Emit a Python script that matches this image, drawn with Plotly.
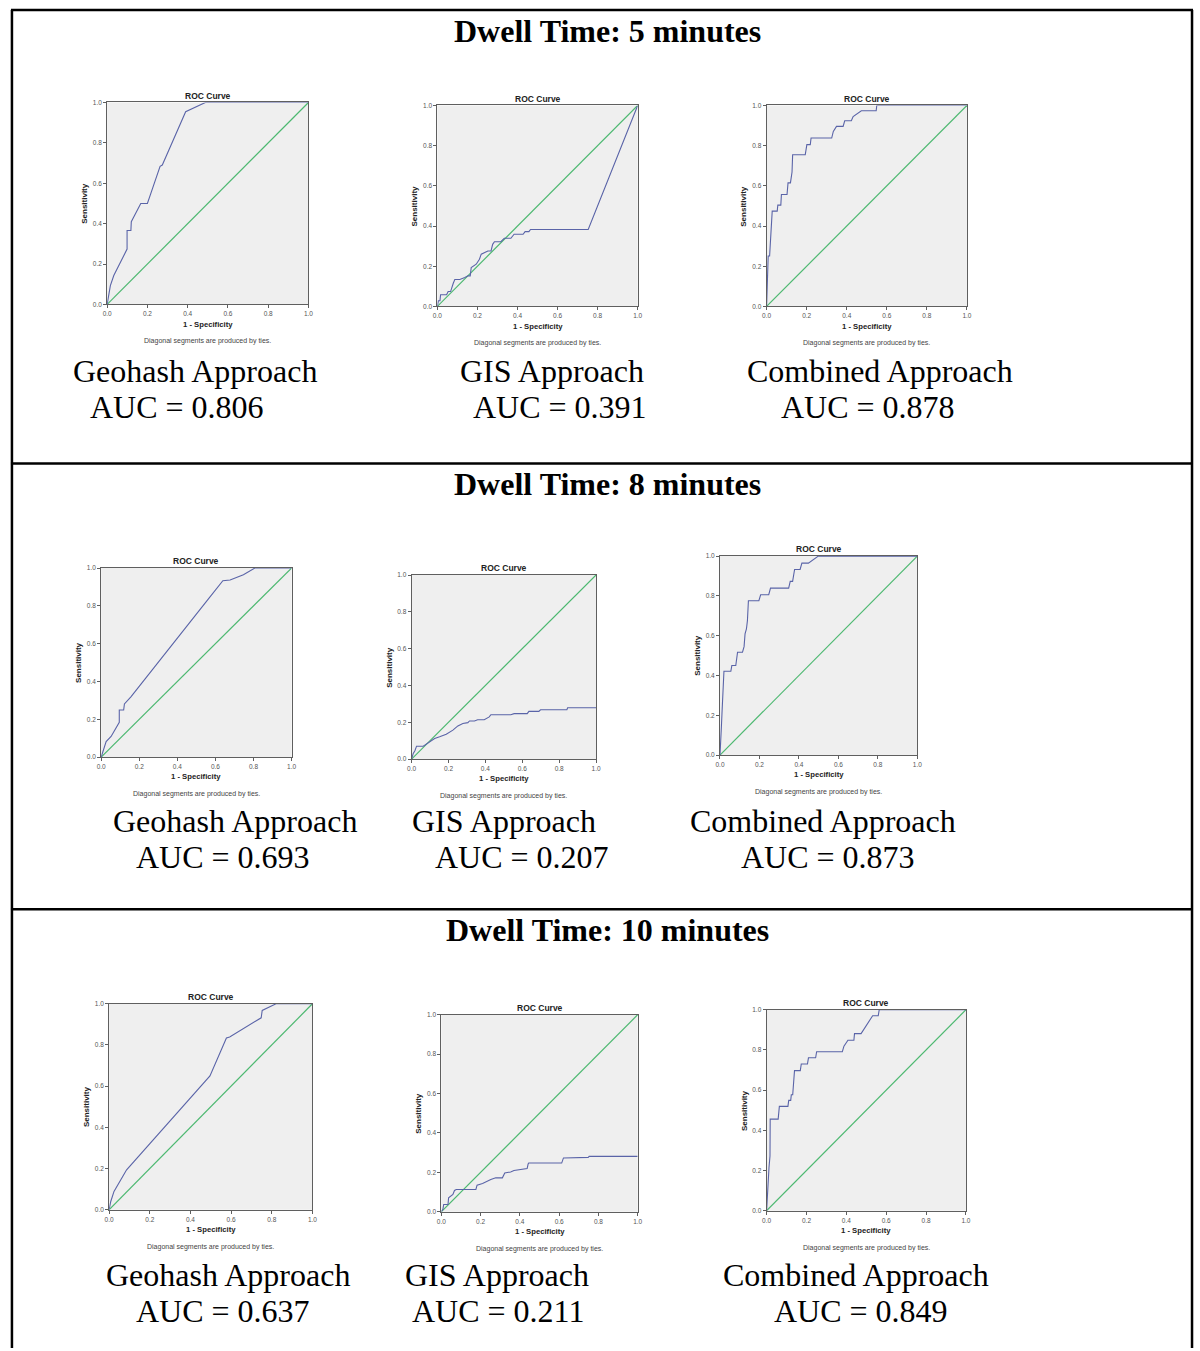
import plotly.graph_objects as go

W, H = 1200, 1351

# ---------------- data ----------------
dwell_titles = ["Dwell Time: 5 minutes", "Dwell Time: 8 minutes", "Dwell Time: 10 minutes"]
approaches = ["Geohash Approach", "GIS Approach", "Combined Approach"]
auc_values = [[0.806, 0.391, 0.878],
              [0.693, 0.207, 0.873],
              [0.637, 0.211, 0.849]]
tick_vals = [0.0, 0.2, 0.4, 0.6, 0.8, 1.0]
tick_text = ["0.0", "0.2", "0.4", "0.6", "0.8", "1.0"]
chart_title = "ROC Curve"
x_title = "1 - Specificity"
y_title = "Sensitivity"
footnote = "Diagonal segments are produced by ties."

# Dwell 5 min
geo5_fpr = [0, 0.016, 0.033, 0.099, 0.099, 0.118, 0.12, 0.167, 0.2, 0.263, 0.274, 0.39, 0.488, 1.0]
geo5_tpr = [0, 0.093, 0.143, 0.274, 0.366, 0.366, 0.41, 0.50, 0.50, 0.684, 0.69, 0.954, 1.0, 1.0]
gis5_fpr = [0, 0.005, 0.013, 0.016, 0.046, 0.054, 0.066, 0.071, 0.079, 0.087, 0.112, 0.137, 0.153, 0.164,
            0.169, 0.194, 0.21, 0.219, 0.235, 0.252, 0.268, 0.276, 0.285, 0.317, 0.334, 0.367, 0.383,
            0.428, 0.438, 0.457, 0.465, 0.753, 1.0]
gis5_tpr = [0, 0.028, 0.028, 0.058, 0.058, 0.074, 0.074, 0.094, 0.114, 0.134, 0.134, 0.144, 0.152, 0.152,
            0.193, 0.21, 0.235, 0.26, 0.268, 0.276, 0.276, 0.309, 0.322, 0.322, 0.339, 0.339, 0.359,
            0.359, 0.372, 0.372, 0.383, 0.383, 1.0]
comb5_fpr = [0, 0.003, 0.008, 0.015, 0.02, 0.025, 0.028, 0.053, 0.056, 0.071, 0.074, 0.102, 0.107, 0.119,
             0.124, 0.127, 0.13, 0.193, 0.201, 0.218, 0.222, 0.325, 0.333, 0.349, 0.382, 0.39, 0.423,
             0.432, 0.473, 0.547, 0.55, 1.0]
comb5_tpr = [0, 0.111, 0.251, 0.251, 0.334, 0.408, 0.474, 0.474, 0.504, 0.504, 0.557, 0.557, 0.615, 0.615,
             0.669, 0.669, 0.755, 0.755, 0.805, 0.805, 0.838, 0.838, 0.871, 0.896, 0.896, 0.924, 0.924,
             0.945, 0.974, 0.974, 1.0, 1.0]

# Dwell 8 min
geo8_fpr = [0, 0.014, 0.026, 0.052, 0.095, 0.095, 0.118, 0.122, 0.156, 0.556, 0.639, 0.677, 0.747, 0.807, 1.0]
geo8_tpr = [0, 0.039, 0.082, 0.109, 0.184, 0.249, 0.249, 0.281, 0.319, 0.828, 0.933, 0.937, 0.965, 1.0, 1.0]
gis8_fpr = [0, 0.009, 0.018, 0.027, 0.063, 0.09, 0.125, 0.152, 0.188, 0.224, 0.251, 0.278, 0.305, 0.314,
            0.341, 0.358, 0.394, 0.421, 0.43, 0.538, 0.556, 0.627, 0.636, 0.69, 0.699, 0.842, 0.846, 1.0]
gis8_tpr = [0, 0.031, 0.045, 0.07, 0.07, 0.088, 0.112, 0.121, 0.135, 0.157, 0.18, 0.193, 0.198, 0.207,
            0.207, 0.214, 0.214, 0.229, 0.241, 0.241, 0.247, 0.247, 0.259, 0.259, 0.268, 0.268, 0.279, 0.279]
comb8_fpr = [0, 0.003, 0.007, 0.01, 0.013, 0.018, 0.02, 0.055, 0.06, 0.08, 0.089, 0.114, 0.122, 0.127,
             0.134, 0.139, 0.144, 0.197, 0.206, 0.247, 0.256, 0.348, 0.356, 0.368, 0.378, 0.406, 0.415,
             0.448, 0.498, 1.0]
comb8_tpr = [0, 0.04, 0.14, 0.207, 0.291, 0.375, 0.421, 0.421, 0.45, 0.45, 0.517, 0.517, 0.545, 0.609,
             0.634, 0.676, 0.776, 0.776, 0.806, 0.806, 0.839, 0.839, 0.873, 0.873, 0.933, 0.933, 0.965,
             0.965, 1.0, 1.0]

# Dwell 10 min
geo10_fpr = [0, 0.008, 0.024, 0.049, 0.086, 0.496, 0.577, 0.593, 0.748, 0.753, 0.772, 0.821, 1.0]
geo10_tpr = [0, 0.04, 0.089, 0.129, 0.194, 0.65, 0.834, 0.839, 0.932, 0.968, 0.976, 1.0, 1.0]
gis10_fpr = [0, 0.008, 0.012, 0.034, 0.037, 0.047, 0.059, 0.067, 0.076, 0.176, 0.182, 0.21, 0.227, 0.252,
             0.277, 0.311, 0.323, 0.353, 0.37, 0.437, 0.442, 0.445, 0.613, 0.622, 0.748, 0.753, 1.0]
gis10_tpr = [0, 0.012, 0.037, 0.037, 0.071, 0.079, 0.088, 0.108, 0.113, 0.113, 0.135, 0.143, 0.152, 0.163,
             0.172, 0.172, 0.197, 0.202, 0.209, 0.219, 0.242, 0.247, 0.247, 0.273, 0.276, 0.281, 0.281]
comb10_fpr = [0, 0.003, 0.008, 0.012, 0.017, 0.018, 0.058, 0.064, 0.107, 0.111, 0.121, 0.124, 0.131,
              0.136, 0.14, 0.169, 0.174, 0.205, 0.21, 0.246, 0.251, 0.38, 0.388, 0.408, 0.438, 0.441,
              0.474, 0.532, 0.56, 0.565, 1.0]
comb10_tpr = [0, 0.066, 0.14, 0.214, 0.272, 0.456, 0.456, 0.519, 0.519, 0.549, 0.549, 0.577, 0.577,
              0.638, 0.697, 0.697, 0.730, 0.730, 0.761, 0.761, 0.791, 0.791, 0.819, 0.848, 0.848, 0.881,
              0.881, 0.97, 0.97, 1.0, 1.0]

curves = [
    [(geo5_fpr, geo5_tpr), (gis5_fpr, gis5_tpr), (comb5_fpr, comb5_tpr)],
    [(geo8_fpr, geo8_tpr), (gis8_fpr, gis8_tpr), (comb8_fpr, comb8_tpr)],
    [(geo10_fpr, geo10_tpr), (gis10_fpr, gis10_tpr), (comb10_fpr, comb10_tpr)],
]

# ---------------- layout (pixels) ----------------
boxes = [
    [(103, 99, 306, 302), (436, 102, 638, 304), (768, 102, 970, 304)],
    [(97, 567, 289, 757), (410, 574, 596, 759), (721, 555, 920, 755)],
    [(105, 1005, 310, 1212), (440, 1016, 638, 1214), (768, 1011, 969, 1213)],
]
name_pos = [
    [(192, 369), (552, 369), (882, 369)],
    [(232, 821), (503, 821), (825, 821)],
    [(225, 1278), (496, 1278), (858, 1278)],
]
auc_pos = [
    [(173, 405), (560, 405), (870, 405)],
    [(220, 857), (521, 857), (830, 857)],
    [(220, 1314), (497, 1314), (863, 1314)],
]
section_y = [27, 483, 931]
separators_y = [462, 910]

SERIF = "Liberation Serif, Times New Roman, serif"
SANS = "Liberation Sans, Arial, sans-serif"
BLUE = "#5a64a8"
GREEN = "#4cb870"
FRAME = "#5f5f5f"


def px(x):
    return x / W


def py(y):
    return 1 - y / H


fig = go.Figure()
layout = dict(width=W, height=H, margin=dict(l=0, r=0, t=0, b=0),
              paper_bgcolor="white", plot_bgcolor="rgba(0,0,0,0)", showlegend=False)
annotations = []
shapes = []

k = 0
for r in range(3):
    for c in range(3):
        k += 1
        xa = "x" if k == 1 else f"x{k}"
        ya = "y" if k == 1 else f"y{k}"
        l, t, rr, b = boxes[r][c]
        layout["xaxis" if k == 1 else f"xaxis{k}"] = dict(
            domain=[px(l), px(rr)], anchor=ya, range=[0, 1], showgrid=False, zeroline=False,
            showline=True, mirror=True, linecolor=FRAME, linewidth=1,
            ticks="outside", ticklen=3, tickwidth=1, tickcolor=FRAME,
            tickvals=tick_vals, ticktext=tick_text,
            tickfont=dict(family=SANS, size=6.5, color="#555555"), fixedrange=True)
        layout["yaxis" if k == 1 else f"yaxis{k}"] = dict(
            domain=[py(b), py(t)], anchor=xa, range=[0, 1], showgrid=False, zeroline=False,
            showline=True, mirror=True, linecolor=FRAME, linewidth=1,
            ticks="outside", ticklen=3, tickwidth=1, tickcolor=FRAME,
            tickvals=tick_vals, ticktext=tick_text,
            tickfont=dict(family=SANS, size=6.5, color="#555555"), fixedrange=True)
        shapes.append(dict(type="rect", xref=f"{xa} domain", yref=f"{ya} domain",
                           x0=0, x1=1, y0=0, y1=1, fillcolor="#efefef",
                           line=dict(width=0), layer="below"))
        fx, fy = curves[r][c]
        fig.add_trace(go.Scatter(x=[0, 1], y=[0, 1], mode="lines", xaxis=xa, yaxis=ya,
                                 line=dict(color=GREEN, width=1.2), hoverinfo="skip"))
        fig.add_trace(go.Scatter(x=fx, y=fy, mode="lines", xaxis=xa, yaxis=ya,
                                 line=dict(color=BLUE, width=1.1)))
        cx = (l + rr) / 2
        annotations += [
            dict(text=f"<b>{chart_title}</b>", x=px(cx), y=py(t - 7), xref="paper", yref="paper",
                 showarrow=False, xanchor="center", yanchor="middle",
                 font=dict(family=SANS, size=8.5, color="#222222")),
            dict(text=f"<b>{y_title}</b>", x=px(l - 23), y=py((t + b) / 2), xref="paper", yref="paper",
                 showarrow=False, xanchor="center", yanchor="middle", textangle=-90,
                 font=dict(family=SANS, size=8, color="#222222")),
            dict(text=f"<b>{x_title}</b>", x=px(cx), y=py(b + 20), xref="paper", yref="paper",
                 showarrow=False, xanchor="center", yanchor="middle",
                 font=dict(family=SANS, size=7.7, color="#222222")),
            dict(text=footnote, x=px(cx), y=py(b + 37), xref="paper", yref="paper",
                 showarrow=False, xanchor="center", yanchor="middle",
                 font=dict(family=SANS, size=7, color="#444444")),
            dict(text=approaches[c], x=px(name_pos[r][c][0]), y=py(name_pos[r][c][1]),
                 xref="paper", yref="paper", showarrow=False, xanchor="center", yanchor="middle",
                 font=dict(family=SERIF, size=32, color="black")),
            dict(text=f"AUC = {auc_values[r][c]:.3f}", x=px(auc_pos[r][c][0]), y=py(auc_pos[r][c][1]),
                 xref="paper", yref="paper", showarrow=False, xanchor="center", yanchor="middle",
                 font=dict(family=SERIF, size=32, color="black")),
        ]

for r in range(3):
    annotations.append(dict(text=f"<b>{dwell_titles[r]}</b>", x=px(608), y=py(section_y[r]),
                            xref="paper", yref="paper", showarrow=False,
                            xanchor="center", yanchor="middle",
                            font=dict(family=SERIF, size=32, color="black")))

# table borders
line_style = dict(color="black", width=2.5)
shapes.append(dict(type="line", xref="paper", yref="paper", x0=px(7), x1=px(7), y0=0, y1=py(6), line=line_style))
shapes.append(dict(type="line", xref="paper", yref="paper", x0=px(1197), x1=px(1197), y0=0, y1=py(6), line=line_style))
shapes.append(dict(type="line", xref="paper", yref="paper", x0=px(6), x1=px(1198), y0=py(6), y1=py(6), line=line_style))
for sy in separators_y:
    shapes.append(dict(type="line", xref="paper", yref="paper", x0=px(6), x1=px(1198), y0=py(sy), y1=py(sy), line=line_style))

layout["annotations"] = annotations
layout["shapes"] = shapes
fig.update_layout(**layout)
fig.write_html("out.html", config={"displayModeBar": False},
               post_script="document.body.style.margin='0';document.body.style.overflow='hidden';")
